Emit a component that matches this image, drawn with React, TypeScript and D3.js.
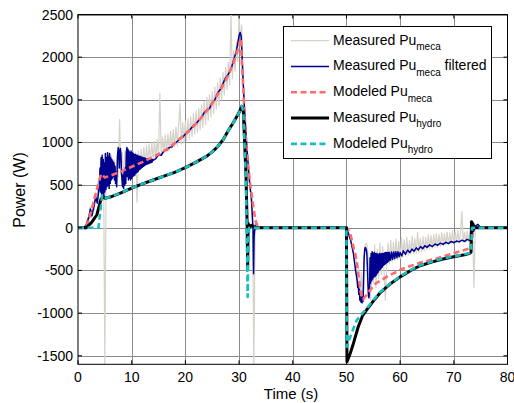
import React from "react";
import * as d3 from "d3";

const X_TICKS = [0, 10, 20, 30, 40, 50, 60, 70, 80];
const Y_TICKS = [-1500, -1000, -500, 0, 500, 1000, 1500, 2000, 2500];

// Measured Pu_meca (raw), sampled every 0.25 s
const GRAY1_START = 1;
const GRAY1 = [
  0, 20, -20, 120, 60, 250, 120, 320, 200, 420, 300, 560, 420, 780, 450, 820,
  -1650, 750, 480, 880, 520, 850, 560, 800, 580, 860, 600, 1270, 620, 880, 600, 900,
  620, 920, 640, 890, 650, 900, 660, 880, 300, 900, 700, 920, 720, 940, 740, 960,
  760, 980, 780, 1000, 800, 1010, 820, 1030, 840, 1580, 860, 1060, 880, 1090, 890, 1100,
  910, 1130, 930, 1150, 950, 1180, 960, 1200, 1460, 980, 1230, 1000, 1250, 1020, 1280, 1040,
  1300, 1070, 1340, 1100, 1370, 1120, 1400, 1150, 1440, 1180, 1480, 1210, 1530, 1260, 1560, 1300,
  1600, 1340, 1650, 1390, 1700, 1430, 1760, 1500, 1820, 1560, 1880, 1620, 1940, 1680, 2520, 1750,
  2080, 1830, 2180, 1950, 2520, 2150, 2380, 1700, 1500, 1000, 950, 650, 560, 300, 200, -1650,
  60, -20, 30, 0, 0,
];
const GRAY2_START = 50;
const GRAY2 = [
  0, -20, -60, -130, -200, -280, -380, -300, -650, -450, -820, -520, -880, -400, -200, -180,
  -300, -600, -850, -400, -650, -200, -700, -250, -600, -180, -550, -220, -500, -850, -450, -180,
  -420, -150, -400, -170, -380, -130, -370, -160, -360, -120, -340, -140, -330, -110, -320, -150,
  -310, -100, -300, -130, -300, -50, -290, -120, -280, -100, -270, -110, -260, -80, -250, -90,
  -240, -80, -230, -70, -230, -80, -220, -60, -210, -70, -200, -50, -200, -60, -190, -40,
  -190, -50, -180, -30, -180, -60, 190, -170, -50, -170, -40, -160, -60, -150, -20, -700,
  20, 30, 0, 10, 0,
];
const GRAY_STEP = 0.25;

// Measured Pu_meca filtered [t, W]
const BLUE = [
  [0, 0], [1, 0], [1.5, 30], [2, 120], [2.3, 220], [2.6, 140], [3, 260], [3.3, 360], [3.6, 290], [3.9, 460],
  [4.0, 520], [4.1, 700], [4.2, 420], [4.3, 820], [4.4, 380], [4.5, 850], [4.6, 400], [4.7, 800], [4.8, 350], [4.9, 760],
  [5.0, 420], [5.1, 870], [5.2, 450], [5.3, 820], [5.4, 480], [5.5, 880], [5.6, 500], [5.7, 840], [5.8, 460], [5.9, 870],
  [6.0, 520], [6.1, 820], [6.2, 560], [6.3, 800], [6.4, 580], [6.5, 780], [6.6, 600], [6.7, 760], [6.8, 560], [6.9, 720],
  [7.0, 520], [7.1, 650], [7.2, 480], [7.3, 700], [7.4, 880], [7.5, 940], [7.6, 900], [7.7, 700], [7.8, 880], [7.9, 930],
  [8.0, 860], [8.1, 650], [8.2, 560], [8.3, 480], [8.4, 620], [8.5, 460], [8.6, 680], [8.7, 500], [8.8, 700], [8.9, 520],
  [9.0, 880], [9.1, 940], [9.2, 600], [9.3, 920], [9.4, 560], [9.5, 900], [9.6, 580], [9.7, 880], [9.8, 560], [9.9, 900],
  [10.0, 580], [10.1, 880], [10.2, 600], [10.3, 870], [10.4, 610], [10.5, 860], [10.6, 620], [10.7, 860], [10.8, 640], [10.9, 850],
  [11.0, 650], [11.1, 850], [11.2, 660], [11.3, 840], [11.4, 680], [11.5, 840], [11.6, 690], [11.7, 830], [11.8, 700], [11.9, 830],
  [12.0, 710], [12.1, 820], [12.2, 720], [12.3, 820], [12.4, 730], [12.5, 815], [12.6, 740], [12.7, 810], [12.8, 745], [12.9, 810],
  [13.0, 750], [13.1, 805], [13.2, 755], [13.3, 800], [13.4, 760], [13.5, 800], [13.6, 765], [13.7, 800], [13.8, 770], [13.9, 800],
  [14, 790], [14.5, 810], [15, 860], [15.5, 850], [16, 900], [16.5, 910], [17, 940], [17.5, 950], [18, 990], [18.5, 1010],
  [19, 1050], [19.5, 1060], [20, 1100], [20.5, 1120], [21, 1160], [21.5, 1200], [22, 1220], [22.5, 1260], [23, 1290],
  [23.5, 1350], [24, 1380], [24.5, 1400], [25, 1470], [25.5, 1500], [26, 1580], [26.5, 1620], [27, 1690], [27.5, 1760],
  [28, 1800], [28.5, 1860], [29, 1970], [29.5, 2070], [30, 2250], [30.2, 2290], [30.4, 2240], [30.7, 1800], [31, 1400],
  [31.5, 900], [32, 500], [32.3, 350], [32.5, 100], [32.6, 0], [32.7, -540], [32.8, -100], [33, 30],
  [33.4, 10], [34, 0], [50, 0], [50.8, -150], [51.3, -300], [51.7, -500],
  [52.0, -620], [52.1, -700], [52.2, -660], [52.3, -780], [52.4, -720], [52.5, -850], [52.6, -760], [52.7, -870], [52.8, -800], [52.9, -880],
  [53.0, -820], [53.1, -860], [53.2, -600], [53.3, -350], [53.4, -260], [53.5, -230], [53.6, -240], [53.7, -260], [53.8, -300], [53.9, -450],
  [54.0, -650], [54.1, -800], [54.2, -820], [54.3, -700], [54.4, -350], [54.5, -650], [54.6, -300], [54.7, -620], [54.8, -280], [54.9, -600],
  [55.0, -300], [55.1, -580], [55.2, -290], [55.3, -570], [55.4, -300], [55.5, -560], [55.6, -300], [55.7, -540], [55.8, -310], [55.9, -520],
  [56.0, -310], [56.1, -500], [56.2, -300], [56.3, -490], [56.4, -310], [56.5, -470], [56.6, -300], [56.7, -460], [56.8, -300], [56.9, -440],
  [57.0, -300], [57.1, -430], [57.2, -290], [57.3, -420], [57.4, -290], [57.5, -410], [57.6, -290], [57.7, -400], [57.8, -290], [57.9, -390],
  [58.0, -290], [58.2, -380], [58.4, -285], [58.6, -370], [58.8, -285], [59, -360], [59.2, -280], [59.4, -350], [59.6, -280], [59.8, -340],
  [60, -290], [60.3, -330], [60.6, -270], [61, -310], [61.4, -260], [61.8, -290], [62.2, -250], [62.6, -275], [63, -235],
  [63.4, -260], [63.8, -220], [64.2, -245], [64.6, -210], [65, -230], [65.5, -200], [66, -220], [66.5, -190], [67, -205],
  [67.5, -180], [68, -195], [68.5, -170], [69, -185], [69.5, -160], [70, -175], [70.5, -155], [71, -165], [71.5, -145],
  [72, -160], [72.5, -135], [73, -150], [73.3, -150], [73.5, 0], [73.7, -40], [74, 20], [74.5, 40], [75, 0], [80, 0],
];

// Modeled Pu_meca [t, W]
const RED = [
  [0, 0], [1.5, 0], [2.5, 200], [3.5, 450], [4.3, 630], [5, 590], [6, 610], [8, 660], [10, 715],
  [12, 770], [14, 830], [16, 900], [18, 990], [20, 1100], [22, 1220], [24, 1370], [25, 1460],
  [26, 1560], [27, 1670], [28, 1790], [29, 1940], [30, 2130], [30.3, 2220], [31.3, 1000], [32, 550],
  [32.5, 320], [33, 100], [33.5, 0], [50.1, 0], [50.7, -66], [51.9, -380], [52.5, -690], [52.8, -808],
  [53.1, -840], [54.4, -730], [55.5, -650], [57.5, -574], [60.6, -476], [63.7, -410], [66.8, -359],
  [69.9, -300], [73, -242], [73.3, -230], [73.6, 0], [80, 0],
];

// Measured Pu_hydro [t, W]
const BLACK = [
  [0, 0], [1.5, 0], [2.5, 60], [3.5, 150], [4.3, 340], [4.7, 365], [5, 345], [6, 360], [8, 410],
  [10, 465], [12, 515], [14, 560], [16, 605], [18, 650], [20, 705], [22, 770], [24, 840], [25, 890],
  [26, 950], [27, 1030], [28, 1140], [29, 1240], [30, 1350], [30.5, 1425], [30.8, 1360], [31.3, 600],
  [31.5, 50], [31.6, -450], [31.7, 50], [31.9, 0], [32.3, 30], [33, 0], [50, 0], [50.1, -1571],
  [50.7, -1473], [51.3, -1355], [52.2, -1160], [53, -1030], [53.8, -960], [55, -860], [56.2, -767],
  [58, -665], [60, -575], [62, -500], [63.7, -445], [66, -400], [68, -365], [70, -340], [72, -315],
  [73, -300], [73.2, -285], [73.3, 70], [73.6, 40], [73.8, 0], [80, 0],
];

// Modeled Pu_hydro [t, W]
const CYAN = [
  [0, 0], [3.8, 0], [4.5, 380], [5, 345], [6, 360], [8, 410], [10, 465], [12, 515], [14, 560],
  [16, 605], [18, 650], [20, 705], [22, 770], [24, 840], [25, 890], [26, 950], [27, 1030], [28, 1140],
  [29, 1240], [30, 1350], [30.5, 1425], [30.8, 1360], [31.3, 500], [31.5, -300], [31.6, -810],
  [31.75, -100], [31.9, 0], [50, 0], [50.05, -1395], [50.7, -1280], [51.3, -1180], [51.9, -1085],
  [52.5, -1040], [53, -1000], [53.8, -945], [55, -850], [56.2, -760], [58, -660], [60, -570],
  [62, -495], [63.7, -440], [66, -395], [68, -360], [70, -335], [72, -310], [73, -295], [73.2, -280],
  [73.4, 0], [80, 0],
];

const LEGEND = [
  { main: "Measured Pu", sub: "meca", tail: "", color: "#d6d2ca", width: 1.2, dash: "" },
  { main: "Measured Pu", sub: "meca", tail: " filtered", color: "#000090", width: 1.5, dash: "" },
  { main: "Modeled Pu", sub: "meca", tail: "", color: "#ff6a6a", width: 2.6, dash: "6,3.5" },
  { main: "Measured Pu", sub: "hydro", tail: "", color: "#000000", width: 3, dash: "" },
  { main: "Modeled Pu", sub: "hydro", tail: "", color: "#19bfbf", width: 2.6, dash: "6,3.5" },
];

const FONT = "'Liberation Sans', Arial, Helvetica, sans-serif";

export default function App() {
  const L = 78, R = 507.5, T = 14.5, B = 364.3;
  const x = d3.scaleLinear().domain([0, 80]).range([L, R]);
  const y = d3.scaleLinear().domain([-1600, 2500]).range([B, T]);
  const line = d3.line<number[]>().x((d) => x(d[0])).y((d) => y(d[1]));

  const gray: number[][] = [[0, 0]];
  GRAY1.forEach((v, i) => gray.push([GRAY1_START + i * GRAY_STEP, v]));
  GRAY2.forEach((v, i) => gray.push([GRAY2_START + i * GRAY_STEP, v]));
  gray.push([80, 0]);

  const series = [
    { data: gray, ...LEGEND[0] },
    { data: BLUE, ...LEGEND[1] },
    { data: RED, ...LEGEND[2] },
    { data: BLACK, ...LEGEND[3] },
    { data: CYAN, ...LEGEND[4] },
  ];

  const lgX = 283.5, lgY = 26.5, lgW = 208, lgH = 132;
  const rowY = (i: number) => 40.7 + i * 25.8;

  return (
    <svg width={514} height={403} style={{ display: "block", position: "absolute", left: 0, top: 0 }}>
      <rect x={0} y={0} width={514} height={403} fill="#fff" />
      <defs>
        <clipPath id="plotclip">
          <rect x={L} y={T} width={R - L} height={B - T} />
        </clipPath>
      </defs>
      {/* grid */}
      <g stroke="#8a8a8a" strokeWidth={1}>
        {X_TICKS.slice(1, -1).map((t) => (
          <line key={"gx" + t} x1={Math.round(x(t)) + 0.5} x2={Math.round(x(t)) + 0.5} y1={T} y2={B} />
        ))}
        {Y_TICKS.map((v) => (
          <line key={"gy" + v} x1={L} x2={R} y1={Math.round(y(v)) + 0.5} y2={Math.round(y(v)) + 0.5} />
        ))}
      </g>
      {/* series */}
      <g clipPath="url(#plotclip)" fill="none" strokeLinejoin="round">
        {series.map((s, i) => (
          <path
            key={i}
            d={line(s.data) || ""}
            stroke={s.color}
            strokeWidth={s.width}
            strokeDasharray={s.dash || undefined}
          />
        ))}
      </g>
      {/* axes box and ticks */}
      <g stroke="#000" strokeWidth={1} fill="none">
        <rect x={L} y={T} width={R - L} height={B - T} />
        {X_TICKS.map((t) => (
          <g key={"tx" + t}>
            <line x1={x(t)} x2={x(t)} y1={B} y2={B - 4} />
            <line x1={x(t)} x2={x(t)} y1={T} y2={T + 4} />
          </g>
        ))}
        {Y_TICKS.map((v) => (
          <g key={"ty" + v}>
            <line x1={L} x2={L + 4} y1={y(v)} y2={y(v)} />
            <line x1={R} x2={R - 4} y1={y(v)} y2={y(v)} />
          </g>
        ))}
      </g>
      {/* tick labels */}
      <g fontFamily={FONT} fontSize={14} fill="#000">
        {X_TICKS.map((t) => (
          <text key={"lx" + t} x={x(t)} y={382} textAnchor="middle">{t}</text>
        ))}
        {Y_TICKS.map((v) => (
          <text key={"ly" + v} x={73} y={y(v) + 5} textAnchor="end">{v}</text>
        ))}
      </g>
      <text x={291} y={399} fontFamily={FONT} fontSize={15} textAnchor="middle">Time (s)</text>
      <text
        transform={`translate(24.5,190) rotate(-90)`}
        fontFamily={FONT}
        fontSize={16}
        textAnchor="middle"
      >
        Power (W)
      </text>
      {/* legend */}
      <rect x={lgX} y={lgY} width={lgW} height={lgH} fill="#fff" stroke="#000" strokeWidth={1} />
      {LEGEND.map((e, i) => (
        <g key={"lg" + i}>
          <line
            x1={291}
            x2={329}
            y1={rowY(i)}
            y2={rowY(i)}
            stroke={e.color}
            strokeWidth={e.width}
            strokeDasharray={e.dash || undefined}
          />
          <text x={333} y={rowY(i) + 3.8} fontFamily={FONT} fontSize={14} fill="#000">
            {e.main}
            <tspan fontSize={10} dy={5.5}>{e.sub}</tspan>
            {e.tail ? <tspan dy={-5.5}>{e.tail}</tspan> : null}
          </text>
        </g>
      ))}
    </svg>
  );
}
